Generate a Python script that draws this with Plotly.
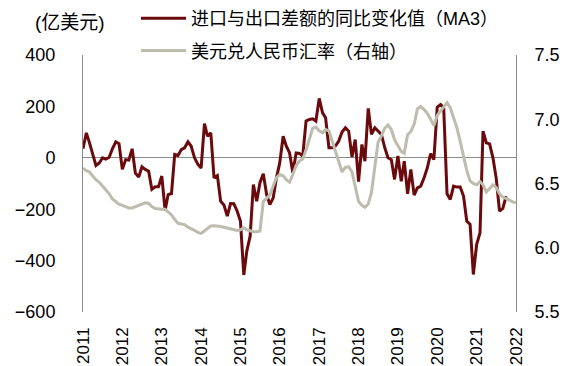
import pandas as pd
import plotly.graph_objects as go

# Monthly data starting Jan 2011
trade_diff = [35, 97, 60, 10, -30, -20, 0, -5, 2, 35, 62, 55,
              -45, -7, -9, 35, -60, -75, -35, -45, -52, -123, -113, -113,
              -71, -205, -143, -139, 13, 9, 32, 39, 62, 45, 0, -25,
              -40, 133, 84, 97, -78, -69, -169, -184, -227, -178, -179, -207,
              -246, -456, -363, -305, -104, -169, -97, -62, -143, -182, -156, -78,
              -19, 84, 46, 19, -58, 19, 17, 7, 143, 149, 152, 143,
              231, 175, 156, 39, 39, 46, 65, 100, 117, 104, 3, 71,
              -93, 52, -13, 192, 91, 117, 106, 91, 40, 0, -7, -84,
              7, -91, -13, -140, -45, -145, -117, -110, -78, -39, 16, -7,
              197, 207, 195, -140, -162, -110, -114, -114, -149, -246, -259, -454,
              -337, -292, 104, 58, 54, 0, -78, -207, -197, -149]

usd_cny = [6.62, 6.60, 6.59, 6.56, 6.53, 6.51, 6.48, 6.45, 6.42, 6.38, 6.36, 6.34,
           6.33, 6.32, 6.31, 6.31, 6.32, 6.33, 6.345, 6.35, 6.345, 6.32, 6.305, 6.30,
           6.30, 6.30, 6.28, 6.255, 6.22, 6.19, 6.185, 6.18, 6.16, 6.15, 6.135, 6.12,
           6.112, 6.13, 6.15, 6.17, 6.172, 6.17, 6.165, 6.16, 6.155, 6.148, 6.14, 6.135,
           6.14, 6.155, 6.14, 6.13, 6.125, 6.125, 6.13, 6.36, 6.39, 6.41, 6.48, 6.545,
           6.57, 6.56, 6.53, 6.51, 6.57, 6.64, 6.675, 6.69, 6.76, 6.85, 6.93, 6.94,
           6.91, 6.895, 6.92, 6.91, 6.83, 6.74, 6.67, 6.59, 6.625, 6.63, 6.59, 6.47,
           6.36, 6.33, 6.315, 6.34, 6.43, 6.63, 6.82, 6.87, 6.93, 6.955, 6.92, 6.84,
           6.79, 6.75, 6.735, 6.88, 6.905, 6.96, 7.08, 7.10, 7.075, 7.045, 7.0, 6.95,
           7.03, 7.065, 7.10, 7.13, 7.09, 7.01, 6.935, 6.83, 6.72, 6.60, 6.52, 6.50,
           6.49, 6.515, 6.49, 6.435, 6.46, 6.49, 6.47, 6.42, 6.395, 6.38, 6.37, 6.357,
           6.35]

trade_dates = pd.date_range("2011-01-01", periods=len(trade_diff), freq="MS")
fx_dates = pd.date_range("2011-01-01", periods=len(usd_cny), freq="MS")

name_trade = "进口与出口差额的同比变化值（MA3）"
name_fx = "美元兑人民币汇率（右轴）"
unit_label = "(亿美元)"

RED = "#6B0A0C"
GREY = "#BDBCAE"
AXIS = "#8C8C8C"
FONT = "Liberation Sans, Arial, Noto Sans CJK SC, sans-serif"

fig = go.Figure()
fig.add_trace(go.Scatter(x=trade_dates, y=trade_diff, name=name_trade, mode="lines",
                         line=dict(color=RED, width=3), yaxis="y", legendgroup="a"))
fig.add_trace(go.Scatter(x=fx_dates, y=usd_cny, name=name_fx, mode="lines",
                         line=dict(color=GREY, width=3), yaxis="y2", legendgroup="b"))

fig.update_layout(
    width=576, height=366,
    margin=dict(l=83, r=60, t=55, b=54, autoexpand=False),
    paper_bgcolor="white", plot_bgcolor="white",
    font=dict(family=FONT, size=18, color="black"),
    showlegend=True,
    legend=dict(x=136 / 576, y=1.0 + 5 / 366, xanchor="left", yanchor="top",
                yref="container", xref="container",
                bgcolor="rgba(0,0,0,0)", font=dict(size=18),
                tracegroupgap=6, itemwidth=45),
    xaxis=dict(type="date", range=["2011-01-01", "2022-01-01"],
               dtick="M12", tick0="2011-01-01", tickformat="%Y",
               tickangle=-90, showgrid=False, showline=False, zeroline=False,
               ticks="", tickfont=dict(size=17), ticklabelstandoff=11,
               automargin=False),
    yaxis=dict(range=[-600, 400], dtick=200, showgrid=False,
               showline=True, linecolor=AXIS, linewidth=1,
               zeroline=True, zerolinecolor=AXIS, zerolinewidth=1,
               ticks="", tickfont=dict(size=18), ticklabelstandoff=23,
               tickformat="d", automargin=False),
    yaxis2=dict(range=[5.5, 7.5], dtick=0.5, overlaying="y", side="right",
                showgrid=False, showline=True, linecolor=AXIS, linewidth=1,
                zeroline=False, ticks="", tickfont=dict(size=18),
                tickformat=".1f", ticklabelstandoff=14, automargin=False),
    annotations=[dict(text=unit_label, x=(33 - 83) / 433, y=(312 - 22) / 257,
                      xref="paper", yref="paper", xanchor="left", yanchor="middle",
                      showarrow=False, font=dict(size=19))],
)

fig.write_html("out.html", config={"displayModeBar": False},
               post_script="document.body.style.margin='0';")
